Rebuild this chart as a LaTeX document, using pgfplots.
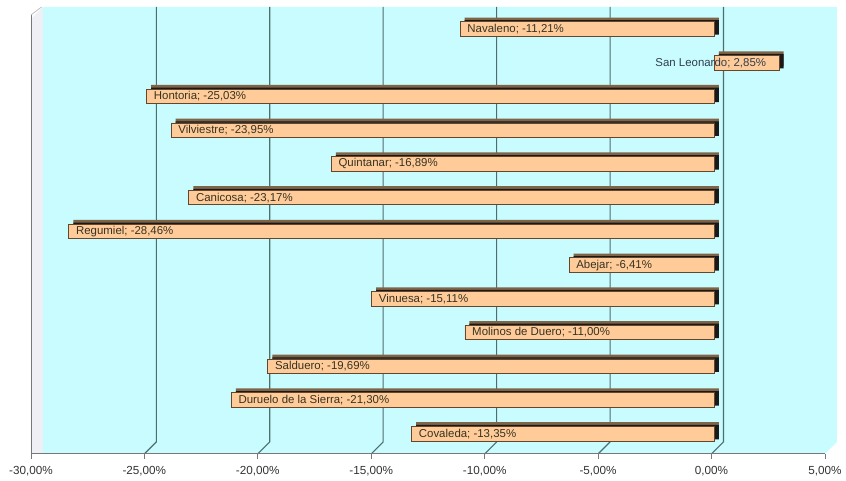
\documentclass[border=0pt]{standalone}
\usepackage{fontspec}
\setmainfont{Liberation Sans}
\usepackage{pgfplots}
\usepackage{pgfplotstable}
\pgfplotsset{compat=1.18}
\definecolor{bg}{RGB}{200,252,255}
\definecolor{wall}{RGB}{238,240,245}
\definecolor{gridc}{RGB}{80,110,110}
\definecolor{barf}{RGB}{255,204,153}
\definecolor{bart}{RGB}{128,100,72}
\definecolor{bare}{RGB}{25,25,25}
\definecolor{bard}{RGB}{100,70,45}
\definecolor{txt}{RGB}{55,50,35}
\definecolor{txtb}{RGB}{50,62,78}
\definecolor{axc}{RGB}{120,120,120}
\protected\def\cm{,}
\protected\def\sc{;}
\protected\def\pc{\%}

\pgfplotstableread{
y x
12 -11.21
11 2.85
10 -25.03
9 -23.95
8 -16.89
7 -23.17
6 -28.46
5 -6.41
4 -15.11
3 -11.00
2 -19.69
1 -21.30
0 -13.35
}\data

\begin{document}
\begin{tikzpicture}
\begin{axis}[
  at={(0,0)}, anchor=south west,
  scale only axis,
  width=597pt, height=327pt,
  xmin=-30, xmax=5,
  ymin=-0.6, ymax=12.3,
  clip=false,
  axis on top,
  axis x line*=bottom,
  axis y line=none,
  x axis line style={draw=axc, line width=0.6pt},
  xtick={-30,-25,-20,-15,-10,-5,0,5},
  tick align=outside,
  major tick length=3.75pt,
  xtick style={draw=axc, line width=0.6pt},
  ytick=\empty,
  /pgf/number format/assume math mode=true,
  xticklabel={\pgfmathprintnumber[fixed,fixed zerofill,precision=2,use comma]{\tick}\%},
  xticklabel style={font=\fontsize{8.8}{10}\selectfont, text=black!80, yshift=-2pt},
]
% walls
\fill[wall] (rel axis cs:0,0) -- (rel axis cs:0,1) -- ([shift={(9pt,9pt)}]rel axis cs:0,1) -- ([xshift=9pt]rel axis cs:0,0) -- cycle;
\fill[bg] ([xshift=9pt]rel axis cs:0,0) -- ([shift={(9pt,9pt)}]rel axis cs:0,1) -- ([shift={(9pt,9pt)}]rel axis cs:1,1) -- ([shift={(9pt,9pt)}]rel axis cs:1,0) -- (rel axis cs:1,0) -- cycle;
\draw[axc, line width=0.6pt] (rel axis cs:0,0) -- ([yshift=3pt]rel axis cs:0,1);
\draw[black!25, line width=0.6pt] ([yshift=3pt]rel axis cs:0,1) -- ([shift={(8pt,9pt)}]rel axis cs:0,1);
% grid lines
\pgfplotsinvokeforeach{-25,-20,-15,-10,-5,0}{
  \draw[gridc, line width=0.8pt] (axis cs:#1,-0.6) -- ++(9pt,9pt) -- ([shift={(9pt,9pt)}]axis cs:#1,12.3);
}
% bar depth (top face)
\addplot[xbar, bar width=10.9pt, bar shift=0pt, draw=none, fill=bart,
  xshift=5.6pt, yshift=3.2pt] table[x=x,y=y]{\data};
% bar depth (end face)
\addplot[xbar, bar width=10.9pt, bar shift=0pt, draw=none, fill=bare,
  xshift=5.6pt, yshift=1.2pt] table[x=x,y=y]{\data};
% bar front face
\addplot[xbar, bar width=10.9pt, bar shift=0pt, draw=bard, line width=0.6pt, fill=barf,
  xshift=2.25pt] table[x=x,y=y]{\data};
% labels
\addplot[draw=none, mark=none, nodes near coords, point meta=explicit symbolic,
  every node near coord/.append style={anchor=west, inner sep=1pt, xshift=6.5pt,
    font=\fontsize{8.6}{10}\selectfont, text=txt}]
  coordinates {
  (-11.21,12) [Navaleno\sc{} -11\cm21\pc]
  (-25.03,10) [Hontoria\sc{} -25\cm03\pc]
  (-23.95,9) [Vilviestre\sc{} -23\cm95\pc]
  (-16.89,8) [Quintanar\sc{} -16\cm89\pc]
  (-23.17,7) [Canicosa\sc{} -23\cm17\pc]
  (-28.46,6) [Regumiel\sc{} -28\cm46\pc]
  (-6.41,5) [Abejar\sc{} -6\cm41\pc]
  (-15.11,4) [Vinuesa\sc{} -15\cm11\pc]
  (-11.00,3) [Molinos de Duero\sc{} -11\cm00\pc]
  (-19.69,2) [Salduero\sc{} -19\cm69\pc]
  (-21.30,1) [Duruelo de la Sierra\sc{} -21\cm30\pc]
  (-13.35,0) [Covaleda\sc{} -13\cm35\pc]
  };
\addplot[draw=none, mark=none, nodes near coords, point meta=explicit symbolic,
  every node near coord/.append style={anchor=east, inner sep=1pt, xshift=-6.4pt,
    font=\fontsize{8.6}{10}\selectfont, text=txtb}]
  coordinates {(2.85,11) [San Leonardo\sc{} 2\cm85\pc]};
\end{axis}
\path[use as bounding box] (-23.25pt,-19.5pt) rectangle (611.25pt,341.25pt);
\end{tikzpicture}
\end{document}
